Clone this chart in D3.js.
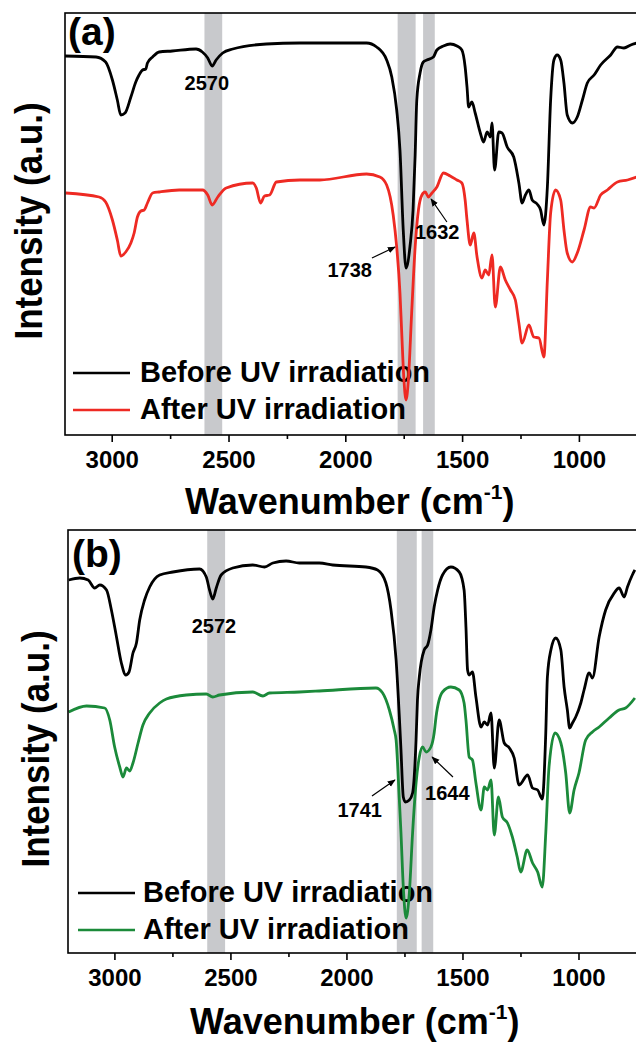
<!DOCTYPE html>
<html><head><meta charset="utf-8">
<script src="https://cdn.jsdelivr.net/npm/d3@7"></script>
<style>
body{margin:0;background:#fff}
svg{display:block}
text{font-family:"Liberation Sans",Arial,Helvetica,sans-serif;font-weight:bold;fill:#000}
</style>
</head><body>
<svg id="chart" width="636" height="1042"></svg>
<script>
// ---------- DATA (wavenumber cm-1, intensity a.u.) ----------
const xTicksMajor = [3000, 2500, 2000, 1500, 1000];
const xTicksMinor = [2750, 2250, 1750, 1250];
const seriesNames = ["Before UV irradiation", "After UV irradiation"];

const beforeA = [[3200,379],[3067,378],[3026,373],[2997,355],[2976,335],[2961,320],[2943,322],[2918,338],[2897,353],[2883,360],[2868,365],[2854,366],[2847,372],[2825,378],[2797,383],[2741,384],[2639,386],[2612,383],[2589,377],[2570,369],[2553,375],[2525,382],[2482,386],[2338,391],[2195,392],[2109,392],[1909,392],[1866,388],[1823,375],[1801,358],[1780,325],[1766,285],[1752,205],[1740,167],[1723,189],[1710,225],[1701,280],[1694,335],[1680,362],[1666,373],[1651,375],[1623,378],[1608,385],[1580,389],[1551,391],[1522,389],[1501,385],[1487,368],[1479,348],[1472,328],[1458,333],[1444,322],[1422,302],[1408,293],[1393,303],[1379,298],[1372,312],[1361,265],[1343,303],[1329,302],[1307,288],[1279,278],[1257,252],[1243,232],[1229,240],[1214,245],[1200,235],[1179,231],[1164,225],[1150,210],[1135,248],[1121,335],[1107,375],[1093,380],[1078,375],[1064,352],[1050,320],[1028,312],[1007,318],[985,335],[964,352],[935,360],[907,370],[864,380],[835,388],[807,387],[778,390],[752,392]];

const afterA = [[3197,242],[3054,238],[3026,233],[2997,215],[2976,195],[2961,179],[2940,183],[2918,192],[2904,202],[2890,218],[2875,224],[2861,225],[2847,232],[2825,242],[2797,243],[2711,245],[2611,245],[2589,240],[2570,230],[2546,238],[2510,247],[2396,252],[2381,247],[2363,232],[2346,239],[2324,240],[2295,253],[2194,255],[2109,255],[1909,261],[1852,258],[1823,250],[1795,220],[1780,188],[1766,142],[1759,105],[1749,55],[1740,35],[1730,55],[1716,122],[1701,188],[1687,225],[1672,240],[1658,243],[1644,238],[1629,242],[1608,248],[1580,262],[1551,259],[1522,255],[1501,252],[1487,235],[1479,215],[1465,190],[1450,202],[1436,178],[1415,157],[1401,165],[1386,160],[1372,180],[1358,128],[1336,168],[1315,155],[1293,145],[1272,135],[1257,112],[1243,92],[1214,110],[1193,98],[1171,97],[1150,78],[1135,155],[1121,222],[1100,245],[1078,235],[1064,205],[1050,182],[1028,173],[1007,182],[978,205],[950,228],[935,227],[907,240],[878,245],[835,253],[792,255],[752,258]];

const beforeB = [[3197,375],[3149,377],[3113,375],[3085,367],[3063,370],[3034,365],[3013,345],[2991,318],[2970,292],[2951,280],[2937,283],[2920,302],[2905,312],[2891,335],[2870,355],[2848,368],[2805,380],[2748,383],[2633,386],[2604,378],[2590,365],[2576,356],[2561,367],[2540,380],[2490,387],[2404,390],[2353,388],[2317,392],[2260,394],[2203,392],[2117,392],[2059,390],[1916,388],[1866,385],[1830,372],[1808,345],[1786,295],[1772,238],[1765,205],[1755,158],[1746,153],[1729,155],[1715,162],[1700,215],[1694,255],[1686,278],[1665,305],[1650,310],[1636,325],[1622,348],[1607,365],[1586,380],[1550,388],[1514,383],[1493,365],[1485,328],[1478,285],[1471,280],[1457,283],[1442,258],[1420,228],[1406,233],[1392,230],[1377,242],[1363,187],[1342,235],[1320,212],[1298,207],[1277,197],[1256,170],[1219,180],[1198,167],[1176,165],[1156,156],[1141,222],[1134,278],[1119,305],[1098,317],[1076,305],[1062,268],[1048,245],[1038,227],[1026,232],[1012,238],[990,252],[976,265],[954,282],[940,277],[911,318],[883,345],[846,362],[825,367],[803,358],[789,368],[768,380],[757,385]];

const afterB = [[3197,243],[3120,249],[3042,247],[3020,235],[2999,208],[2977,188],[2963,178],[2948,187],[2934,184],[2920,192],[2898,212],[2877,230],[2848,242],[2805,252],[2776,256],[2690,260],[2604,261],[2576,258],[2547,260],[2404,263],[2360,259],[2332,262],[2203,263],[2117,264],[1873,267],[1844,262],[1815,245],[1794,225],[1786,215],[1772,155],[1765,122],[1755,68],[1743,37],[1729,62],[1715,122],[1700,172],[1686,198],[1672,208],[1657,203],[1636,208],[1622,222],[1614,238],[1586,263],[1550,268],[1514,265],[1493,252],[1485,235],[1471,198],[1457,195],[1442,172],[1420,145],[1406,168],[1392,165],[1377,175],[1363,120],[1345,158],[1328,138],[1306,132],[1285,118],[1264,98],[1249,83],[1221,105],[1198,92],[1176,83],[1156,68],[1141,122],[1127,188],[1101,222],[1076,212],[1055,182],[1038,142],[1019,165],[998,182],[969,215],[940,223],[911,228],[868,237],[825,245],[797,247],[757,257]];

const bandsA = [[2603,2527],[1776,1699],[1667,1617]];
const bandsB = [[2600,2523],[1783,1697],[1676,1626]];

// annotations: label, text anchor point [wn, intensity], arrow tail, arrow tip
const notesA = [
  {label:"2570", at:[2593,345], anchor:"middle"},
  {label:"1632", at:[1702,196], anchor:"start", tail:[1565,213], tip:[1633,236]},
  {label:"1738", at:[1886,158], anchor:"end", tail:[1886,177], tip:[1787,188]}
];
const notesB = [
  {label:"2572", at:[2571,322], anchor:"middle"},
  {label:"1644", at:[1661,155], anchor:"start", tail:[1541,178], tip:[1631,198]},
  {label:"1741", at:[1847,138], anchor:"end", tail:[1890,159], tip:[1791,175]}
];

// ---------- LAYOUT ----------
const panels = [
  {tag:"(a)", before:beforeA, after:afterA, afterColor:"#ee2a23", bands:bandsA, notes:notesA,
   xDom:[3200,750], yDom:[0,422], l:65, r:637.3, t:13, b:435,
   tagPos:[68,45], yTitle:[42,221], xTitle:[185,514],
   legend:{x1:73,x2:130,tx:140,ys:[373,410],by:[382,419]}},
  {tag:"(b)", before:beforeB, after:afterB, afterColor:"#1b8a3a", bands:bandsB, notes:notesB,
   xDom:[3200,750], yDom:[2,425], l:68, r:636.5, t:530, b:953,
   tagPos:[72,567], yTitle:[49,749], xTitle:[190,1034],
   legend:{x1:78,x2:135,tx:143,ys:[893,930],by:[902,939]}}
];

const svg = d3.select("#chart");
const defs = svg.append("defs");
defs.append("marker").attr("id","arr").attr("viewBox","0 0 10 10")
  .attr("refX",9).attr("refY",5).attr("markerWidth",8).attr("markerHeight",8)
  .attr("markerUnits","userSpaceOnUse").attr("orient","auto")
  .append("path").attr("d","M0,1 L10,5 L0,9 Z").attr("fill","#000");

panels.forEach((p,i) => {
  const x = d3.scaleLinear().domain(p.xDom).range([p.l, p.r]);
  const y = d3.scaleLinear().domain(p.yDom).range([p.b, p.t]);
  const g = svg.append("g");
  const clipId = "clip"+i;
  defs.append("clipPath").attr("id",clipId).append("rect")
    .attr("x",p.l).attr("y",p.t).attr("width",p.r-p.l+2).attr("height",p.b-p.t);

  // bands
  g.selectAll("rect.band").data(p.bands).join("rect").attr("class","band")
    .attr("x",d=>x(d[0])).attr("width",d=>x(d[1])-x(d[0]))
    .attr("y",p.t).attr("height",p.b-p.t).attr("fill","#c8c9cc");

  // legend
  const colors = ["#000", p.afterColor];
  seriesNames.forEach((name,k) => {
    g.append("line").attr("x1",p.legend.x1).attr("x2",p.legend.x2)
      .attr("y1",p.legend.ys[k]).attr("y2",p.legend.ys[k])
      .attr("stroke",colors[k]).attr("stroke-width",2.4);
    g.append("text").attr("x",p.legend.tx).attr("y",p.legend.by[k])
      .attr("font-size",29).text(name);
  });

  // curves
  const line = d3.line().x(d=>x(d[0])).y(d=>y(d[1])).curve(d3.curveMonotoneX);
  const cg = g.append("g").attr("clip-path",`url(#${clipId})`);
  cg.append("path").datum(p.after).attr("d",line).attr("fill","none")
    .attr("stroke",p.afterColor).attr("stroke-width",2.8).attr("stroke-linejoin","round");
  cg.append("path").datum(p.before).attr("d",line).attr("fill","none")
    .attr("stroke","#000").attr("stroke-width",2.8).attr("stroke-linejoin","round");

  // annotations
  p.notes.forEach(n => {
    g.append("text").attr("x",x(n.at[0])).attr("y",y(n.at[1]))
      .attr("text-anchor",n.anchor).attr("font-size",20).text(n.label);
    if (n.tip) {
      g.append("line").attr("x1",x(n.tail[0])).attr("y1",y(n.tail[1]))
        .attr("x2",x(n.tip[0])).attr("y2",y(n.tip[1]))
        .attr("stroke","#000").attr("stroke-width",1.2).attr("marker-end","url(#arr)");
    }
  });

  // frame
  g.append("rect").attr("x",p.l).attr("y",p.t).attr("width",p.r-p.l+10).attr("height",p.b-p.t)
    .attr("fill","none").attr("stroke","#000").attr("stroke-width",1.6);

  // axes
  const ax = g.append("g").attr("transform",`translate(0,${p.b})`)
    .call(d3.axisBottom(x).tickValues(xTicksMajor).tickSize(7).tickPadding(9).tickFormat(d3.format("d")));
  ax.select(".domain").remove();
  ax.selectAll(".tick line").attr("stroke-width",1.6);
  ax.selectAll(".tick text").attr("font-size",24).attr("font-family","Liberation Sans, Arial, sans-serif").attr("font-weight","bold");
  const axm = g.append("g").attr("transform",`translate(0,${p.b})`)
    .call(d3.axisBottom(x).tickValues(xTicksMinor).tickSize(4).tickFormat(""));
  axm.select(".domain").remove();
  axm.selectAll(".tick line").attr("stroke-width",1.6);

  // titles
  g.append("text").attr("transform",`translate(${p.yTitle[0]},${p.yTitle[1]}) rotate(-90) scale(1,1.1)`)
    .attr("text-anchor","middle").attr("font-size",35).text("Intensity (a.u.)");
  const xt = g.append("text").attr("x",p.xTitle[0]).attr("y",p.xTitle[1])
    .attr("font-size",36);
  xt.append("tspan").text("Wavenumber (cm");
  xt.append("tspan").attr("font-size",21).attr("dy",-15).text("-1");
  xt.append("tspan").attr("dy",15).text(")");

  g.append("text").attr("x",p.tagPos[0]).attr("y",p.tagPos[1]).attr("font-size",39).text(p.tag);
});
</script>
</body></html>
